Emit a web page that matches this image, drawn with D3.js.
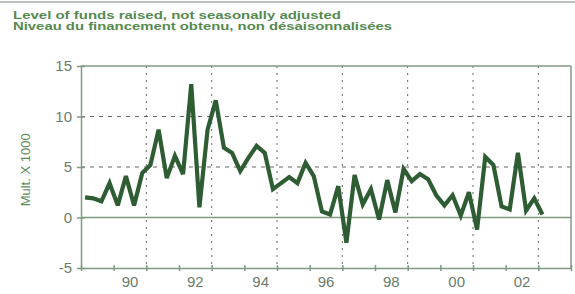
<!DOCTYPE html>
<html>
<head>
<meta charset="utf-8">
<script src="https://cdn.jsdelivr.net/npm/d3@7"></script>
<style>
  html, body { margin: 0; padding: 0; background: #ffffff; }
  svg { display: block; }
</style>
</head>
<body>
<svg id="chart" width="575" height="294"></svg>
<script>
// ---- data ----
const titleLines = [
  "Level of funds raised, not seasonally adjusted",
  "Niveau du financement obtenu, non désaisonnalisées"
];
const yAxisLabel = "Mult. X 1000";
const firstYear = 1989;
const lastYear = 2004;
// quarterly values, 1989Q1 .. 2003Q1
const values = [
  2.0, 1.9, 1.6, 3.4, 1.2, 4.1, 1.2, 4.4,
  5.2, 8.7, 3.9, 6.1, 4.3, 13.2, 1.0, 8.7,
  11.6, 6.9, 6.4, 4.6, 5.9, 7.1, 6.4, 2.8,
  3.4, 4.0, 3.4, 5.4, 4.1, 0.6, 0.3, 3.1,
  -2.5, 4.2, 1.3, 2.8, -0.2, 3.7, 0.5, 4.8,
  3.6, 4.3, 3.8, 2.2, 1.2, 2.2, 0.2, 2.5,
  -1.2, 6.0, 5.2, 1.1, 0.8, 6.4, 0.7, 1.9,
  0.3
];
const quarters = values.map((_, i) => ({ year: firstYear + Math.floor(i / 4), q: i % 4 + 1 }));
const yTicks = [-5, 0, 5, 10, 15];
const yTickLabels = ["-5", "0", "5", "10", "15"];
const yGrid = [5, 10];
const xLabelYears = [1990, 1992, 1994, 1996, 1998, 2000, 2002];
const xLabels = ["90", "92", "94", "96", "98", "00", "02"];
const xGridYears = [1991, 1993, 1995, 1997, 1999, 2001, 2003];
const xTickYears = d3.range(firstYear, lastYear + 1);

// ---- layout ----
const svg = d3.select("#chart");
const pLeft = 81, pRight = 571, pTop = 66, pBottom = 268;
const frameColor = "#7f9a80";
const textColor = "#6a7d6b";

const x = d3.scaleLinear().domain([firstYear, lastYear]).range([pLeft, pRight]);
const y = d3.scaleLinear().domain([-5, 15]).range([pBottom, pTop]);

// top rule
svg.append("line").attr("x1", 0).attr("x2", 575).attr("y1", 2).attr("y2", 2)
  .attr("stroke", "#a9aea9").attr("stroke-width", 1.5);

// titles
svg.selectAll("text.title").data(titleLines).enter().append("text")
  .attr("class", "title")
  .attr("x", 13).attr("y", (d, i) => 18.5 + i * 11)
  .attr("font-family", "Liberation Sans, Arial, sans-serif")
  .attr("font-weight", "bold").attr("font-size", 11.5)
  .attr("fill", "#558a4f")
  .attr("textLength", (d, i) => i === 0 ? 328 : 379)
  .attr("lengthAdjust", "spacingAndGlyphs")
  .text(d => d);

// horizontal dashed grid
svg.selectAll("line.hgrid").data(yGrid).enter().append("line")
  .attr("x1", pLeft).attr("x2", pRight)
  .attr("y1", d => y(d)).attr("y2", d => y(d))
  .attr("stroke", "#666").attr("stroke-width", 1)
  .attr("stroke-dasharray", "4,5");

// vertical dotted grid
svg.selectAll("line.vgrid").data(xGridYears).enter().append("line")
  .attr("x1", d => x(d)).attr("x2", d => x(d))
  .attr("y1", pTop).attr("y2", pBottom)
  .attr("stroke", "#666").attr("stroke-width", 1)
  .attr("stroke-dasharray", "2,5");

// frame: top, right
svg.append("line").attr("x1", pLeft).attr("x2", pRight).attr("y1", pTop).attr("y2", pTop)
  .attr("stroke", frameColor).attr("stroke-width", 1.5);
svg.append("line").attr("x1", pRight).attr("x2", pRight).attr("y1", pTop).attr("y2", pBottom)
  .attr("stroke", frameColor).attr("stroke-width", 1.5);

// zero line
svg.append("line").attr("x1", pLeft).attr("x2", pRight).attr("y1", y(0)).attr("y2", y(0))
  .attr("stroke", frameColor).attr("stroke-width", 1.5);

// y axis
const yAxis = d3.axisLeft(y).tickValues(yTicks).tickSize(0).tickPadding(9)
  .tickFormat((d, i) => yTickLabels[i]);
const gy = svg.append("g").attr("transform", `translate(${pLeft},0)`).call(yAxis);
gy.select(".domain").attr("stroke", frameColor).attr("stroke-width", 1.5);
gy.selectAll(".tick line").remove();
gy.selectAll(".tick").append("line").attr("x1", -4).attr("x2", 4)
  .attr("stroke", frameColor).attr("stroke-width", 1.5);
gy.selectAll(".tick text")
  .attr("font-family", "Liberation Sans, Arial, sans-serif")
  .attr("font-size", 15).attr("fill", textColor);

// x axis (bottom, at -5)
const xAxis = d3.axisBottom(x).tickValues(xTickYears).tickSize(0).tickFormat("");
const gx = svg.append("g").attr("transform", `translate(0,${pBottom})`).call(xAxis);
gx.select(".domain").attr("stroke", frameColor).attr("stroke-width", 1.5);
gx.selectAll(".tick line").remove();
gx.selectAll(".tick").append("line").attr("y1", -3).attr("y2", 3)
  .attr("stroke", frameColor).attr("stroke-width", 1.5);

// x labels at mid-year
svg.selectAll("text.xlab").data(xLabelYears).enter().append("text")
  .attr("class", "xlab")
  .attr("x", d => x(d + 0.5)).attr("y", 287)
  .attr("text-anchor", "middle")
  .attr("font-family", "Liberation Sans, Arial, sans-serif")
  .attr("font-size", 15).attr("fill", textColor)
  .text((d, i) => xLabels[i]);

// y axis title
svg.append("text")
  .attr("transform", `translate(30,${(y(2) + y(11)) / 2 + 18}) rotate(-90)`)
  .attr("text-anchor", "middle")
  .attr("font-family", "Liberation Sans, Arial, sans-serif")
  .attr("font-size", 13).attr("fill", "#5d8c5b")
  .text(yAxisLabel);

// series line
const line = d3.line()
  .x((d, i) => x(quarters[i].year + (quarters[i].q - 0.5) / 4))
  .y(d => y(d));
svg.append("path").datum(values)
  .attr("d", line)
  .attr("fill", "none")
  .attr("stroke", "#2e5c33")
  .attr("stroke-width", 4.2)
  .attr("stroke-linejoin", "miter")
  .attr("stroke-miterlimit", 3);
</script>
</body>
</html>
